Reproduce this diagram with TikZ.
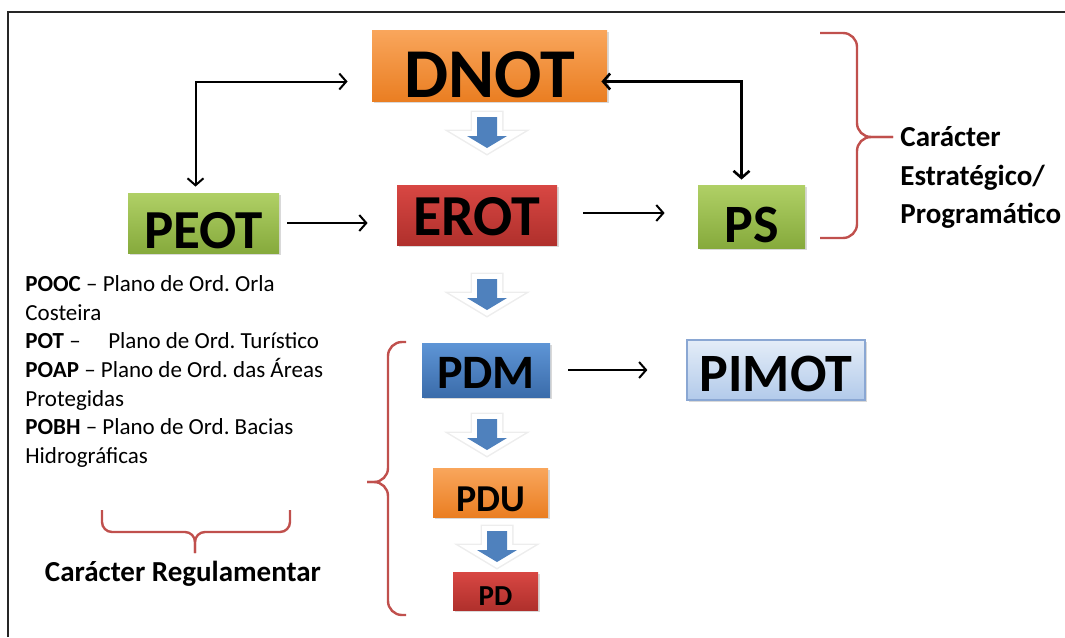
\documentclass[tikz,border=0pt]{standalone}
\usepackage{fontspec}
\setmainfont{Carlito}
\frenchspacing
\usetikzlibrary{arrows.meta,shadows}

\definecolor{orangeT}{HTML}{F9A65C}
\definecolor{orangeB}{HTML}{EA7E22}
\definecolor{greenT}{HTML}{B0D066}
\definecolor{greenB}{HTML}{86AA3C}
\definecolor{redT}{HTML}{D84743}
\definecolor{redB}{HTML}{B0302C}
\definecolor{blueT}{HTML}{5E95D6}
\definecolor{blueB}{HTML}{3B6CAA}
\definecolor{paleT}{HTML}{E4EDF8}
\definecolor{paleB}{HTML}{B2CAEA}
\definecolor{paleline}{HTML}{8AA7D3}
\definecolor{flowblue}{HTML}{4F81BD}
\definecolor{bracketred}{HTML}{C0504D}

\tikzset{
  box/.style={rectangle, inner sep=0pt,
    drop shadow={opacity=0.3, shadow xshift=0.8pt, shadow yshift=-1.2pt}},
  orangebox/.style={box, top color=orangeT, bottom color=orangeB},
  greenbox/.style={box, top color=greenT, bottom color=greenB},
  redbox/.style={box, top color=redT, bottom color=redB},
  bluebox/.style={box, top color=blueT, bottom color=blueB},
  palebox/.style={box, top color=paleT, bottom color=paleB, draw=paleline, line width=0.6pt},
  conn/.style={line width=1pt},
  bracket/.style={draw=bracketred, line width=1.2pt, rounded corners=7pt},
  flow/.pic={
    \path[preaction={draw=black!7, line width=6.5pt},
          preaction={draw=white, line width=5pt},
          fill=flowblue]
      (-10,0) -- (10,0) -- (10,19) -- (20,19) -- (0,31) -- (-20,19) -- (-10,19) -- cycle;
  }
}

\begin{document}
\begin{tikzpicture}[x=0.5pt,y=-0.5pt,>={Straight Barb[length=3.5pt,width=8pt]}]
  \useasboundingbox (0,0) rectangle (1065,637);
  % frame
  \draw[line width=1.4pt, black!85] (8,637) -- (8,12) -- (1065,12);

  % plans
  \node[orangebox, minimum width=117.5pt, minimum height=35.5pt, text height=32pt,
        font=\fontsize{35}{35}\selectfont\bfseries] (dnot) at (489.5,65.5) {DNOT};
  \node[greenbox, minimum width=75.5pt, minimum height=30pt, text height=25.5pt,
        font=\fontsize{27.5}{27.5}\selectfont\bfseries] (peot) at (203.5,223) {PEOT};
  \node[redbox, minimum width=80pt, minimum height=30pt, text height=20.5pt,
        font=\fontsize{29}{29}\selectfont\bfseries] (erot) at (477,215) {EROT};
  \node[greenbox, minimum width=53.5pt, minimum height=31.5pt, text height=26pt,
        font=\fontsize{27}{27}\selectfont\bfseries] (ps) at (751.5,216.5) {PS};
  \node[bluebox, minimum width=64pt, minimum height=27pt, text height=18.5pt,
        font=\fontsize{24}{24}\selectfont\bfseries] (pdm) at (486,370) {PDM};
  \node[palebox, minimum width=89pt, minimum height=30pt, text height=22pt,
        font=\fontsize{27}{27}\selectfont\bfseries] (pimot) at (776,370) {PIMOT};
  \node[orangebox, minimum width=57.5pt, minimum height=24.5pt, text height=19.5pt,
        font=\fontsize{19}{19}\selectfont\bfseries] (pdu) at (490.5,492.5) {PDU};
  \node[redbox, minimum width=42.5pt, minimum height=19pt, text height=14pt,
        font=\fontsize{14.5}{14.5}\selectfont\bfseries] (pd) at (495.5,591) {PD};

  % block arrows
  \pic (flow1) at (487,117) {flow};
  \pic (flow2) at (487,279) {flow};
  \pic (flow3) at (487,419) {flow};
  \pic (flow4) at (497,531) {flow};

  % connectors
  \draw[conn,<->,shorten <=3pt,shorten >=12pt] ([xshift=-4pt]peot.north) |- ([yshift=-8pt]dnot.west);
  \draw[conn,<->,line width=1.3pt,shorten <=-3pt,shorten >=2.5pt] ([yshift=-8pt]dnot.east) -| ([xshift=-5pt]ps.north);
  \draw[conn,->,shorten <=4pt,shorten >=14.5pt] (peot.east) -- (peot.east -| erot.west);
  \draw[conn,->,shorten <=13pt,shorten >=16.5pt] ([yshift=1pt]erot.east) -- ([yshift=1pt]erot.east -| ps.west);
  \draw[conn,->,shorten <=9pt,shorten >=19.5pt] (pdm.east) -- (pdm.east -| pimot.west);

  % brackets
  \draw[bracket] (820,33) -- (857,33) -- (857,137) -- (893,137);
  \draw[bracket] (893,137) -- (857,137) -- (857,238) -- (820,238);
  \draw[bracket] (406,342) -- (388,342) -- (388,482) -- (367,482);
  \draw[bracket] (367,482) -- (388,482) -- (388,615) -- (406,615);
  \draw[bracket,rounded corners=5pt] (102,510) -- (102,532) -- (195,532) -- (195,553);
  \draw[bracket,rounded corners=5pt] (195,553) -- (195,532) -- (290,532) -- (290,510);

  % texts
  \node[anchor=north west, inner sep=0pt, align=left,
        font=\fontsize{11.5}{14.35}\selectfont] (plans) at (25,275)
    {\textbf{POOC} – Plano de Ord. Orla\\
     Costeira\\
     \textbf{POT} –\hspace{1.2em}Plano de Ord. Turístico\\
     \textbf{POAP} – Plano de Ord. das Áreas\\
     Protegidas\\
     \textbf{POBH} – Plano de Ord. Bacias\\
     Hidrográficas};
  \node[anchor=north west, inner sep=0pt, align=left,
        font=\fontsize{14.5}{19.3}\selectfont\bfseries] (strat) at (900,126)
    {Carácter\\Estratégico/\\Programático};
  \node[anchor=base, inner sep=0pt, font=\fontsize{14.5}{17}\selectfont\bfseries]
    (reg) at (183,581) {Carácter Regulamentar};
\end{tikzpicture}
\end{document}
